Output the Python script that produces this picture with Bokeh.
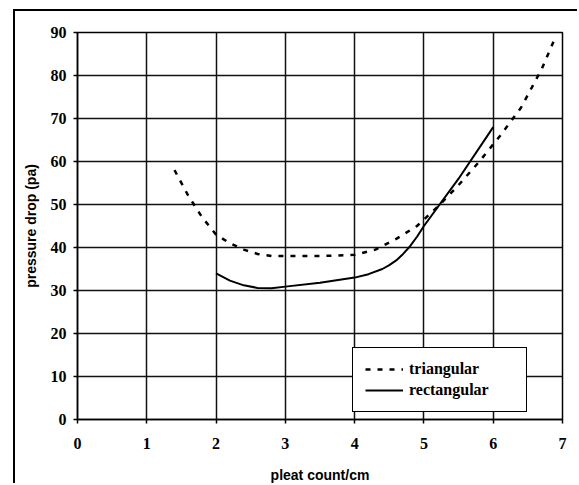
from bokeh.plotting import figure
from bokeh.models import Range1d, FixedTicker, Legend, LegendItem
from bokeh.embed import file_html
from bokeh.resources import INLINE

# Data
tri_x = [1.4, 1.6, 1.8, 2.0, 2.2, 2.4, 2.6, 2.8, 3.0, 3.5, 4.0, 4.3, 4.6, 4.9, 5.2, 5.5, 5.8, 6.1, 6.4, 6.7, 6.9]
tri_y = [58, 52, 47, 43, 41, 39.5, 38.5, 38, 38, 38, 38.3, 39.5, 42, 45, 49.5, 54.5, 60, 66, 72.5, 81.5, 89]
rect_x = [2.0, 2.2, 2.4, 2.6, 2.8, 3.0, 3.5, 4.0, 4.2, 4.4, 4.5, 4.6, 4.7, 4.8, 4.9, 5.0, 5.5, 6.0]
rect_y = [34, 32.3, 31.2, 30.6, 30.5, 30.9, 31.8, 33, 33.8, 35, 35.9, 37, 38.5, 40.3, 42.5, 45, 56, 68]
x_ticks = [0, 1, 2, 3, 4, 5, 6, 7]
y_ticks = [0, 10, 20, 30, 40, 50, 60, 70, 80, 90]

p = figure(width=564, height=474, output_backend="svg", toolbar_location=None,
           x_range=Range1d(0, 7), y_range=Range1d(0, 90),
           min_border_left=62, min_border_top=21, min_border_right=17, min_border_bottom=65,
           margin=(9, 0, 0, 13),
           styles={"border-left": "2px solid black", "border-top": "2px solid black"})

p.background_fill_color = "white"
p.border_fill_color = "white"
p.outline_line_color = "black"
p.outline_line_width = 1.5

for ax in (p.xaxis[0], p.yaxis[0]):
    ax.axis_line_color = "black"
    ax.axis_line_width = 1.5
    ax.major_tick_line_color = "black"
    ax.major_tick_line_width = 1.5
    ax.major_tick_in = 0
    ax.major_tick_out = 4
    ax.minor_tick_line_color = None
    ax.major_label_text_font = "Liberation Serif"
    ax.major_label_text_font_style = "bold"
    ax.major_label_text_font_size = "16px"
    ax.major_label_text_color = "black"
    ax.axis_label_text_font = "Liberation Sans"
    ax.axis_label_text_font_style = "bold"
    ax.axis_label_text_font_size = "14px"
    ax.axis_label_text_color = "black"

p.xaxis.ticker = FixedTicker(ticks=x_ticks)
p.yaxis.ticker = FixedTicker(ticks=y_ticks)
p.xaxis.axis_label = "pleat count/cm"
p.yaxis.axis_label = "pressure drop (pa)"
p.xaxis.major_label_standoff = 14
p.yaxis.major_label_standoff = 7
p.xaxis.axis_label_standoff = 15
p.yaxis.axis_label_standoff = 9

p.xgrid.ticker = FixedTicker(ticks=x_ticks)
p.ygrid.ticker = FixedTicker(ticks=y_ticks)
for g in (p.xgrid[0], p.ygrid[0]):
    g.grid_line_color = "#111111"
    g.grid_line_width = 1.5

r_tri = p.line(tri_x, tri_y, line_color="black", line_width=2.5, line_dash="5 7")
r_rect = p.line(rect_x, rect_y, line_color="black", line_width=2)

legend = Legend(items=[LegendItem(label="triangular", renderers=[r_tri]),
                       LegendItem(label="rectangular", renderers=[r_rect])],
                location=(275, 7))
legend.label_text_font = "Liberation Serif"
legend.label_text_font_style = "bold"
legend.label_text_font_size = "16px"
legend.label_text_color = "black"
legend.border_line_color = "black"
legend.border_line_alpha = 1
legend.border_line_width = 1.5
legend.background_fill_color = "white"
legend.background_fill_alpha = 1
legend.glyph_width = 38
legend.glyph_height = 18
legend.label_height = 18
legend.label_width = 105
legend.label_standoff = 6
legend.padding = 12
legend.spacing = 3
legend.margin = 0
p.add_layout(legend, "center")

open("out.html", "w").write(file_html(p, INLINE))
